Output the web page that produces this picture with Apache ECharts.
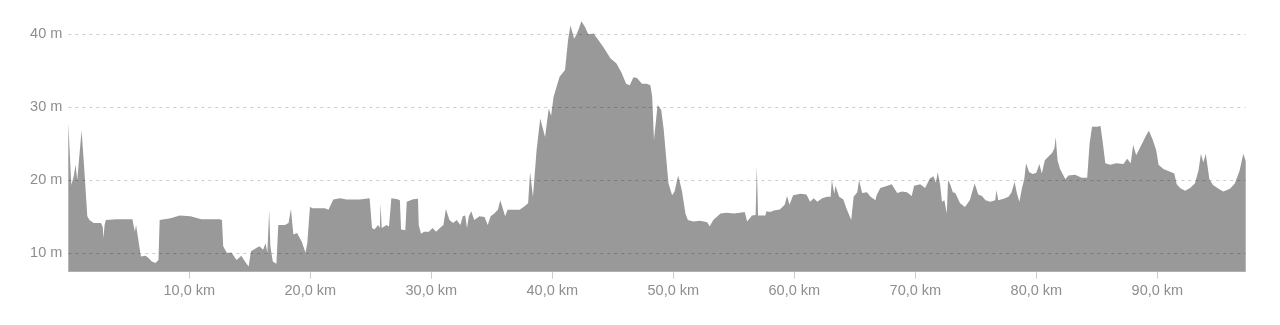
<!DOCTYPE html>
<html>
<head>
<meta charset="utf-8">
<script src="https://cdn.jsdelivr.net/npm/echarts@6/dist/echarts.min.js"></script>
<style>
html,body{margin:0;padding:0;background:#fff;}
#chart{width:1280px;height:325px;}
</style>
</head>
<body>
<div id="chart"></div>
<script>
const distanceKm = [
0.0,0.25,0.45,0.6,0.74,0.95,1.1,1.3,1.57,1.75,2.1,2.7,2.85,2.9,3.0,3.1,4.0,5.3,5.5,5.6,
6.0,6.4,6.6,6.9,7.2,7.45,7.55,8.46,9.2,10.1,11.0,12.5,12.7,12.8,13.1,13.5,13.9,14.3,14.6,14.9,
15.1,15.4,15.8,16.1,16.3,16.45,16.6,16.7,16.9,17.2,17.35,17.9,18.2,18.4,18.6,18.9,19.3,19.6,19.75,19.97,
20.2,21.2,21.5,21.9,22.45,23.0,24.1,24.9,25.1,25.3,25.6,25.75,25.8,25.9,26.3,26.5,26.7,27.2,27.4,27.5,
27.6,27.85,27.97,28.5,28.9,28.96,29.15,29.4,29.8,30.1,30.4,30.7,31.0,31.2,31.5,31.8,32.1,32.4,32.6,32.8,
32.95,33.1,33.3,33.55,33.97,34.4,34.66,34.9,35.2,35.5,35.7,35.9,36.1,36.3,37.3,37.7,38.0,38.16,38.4,38.7,
39.0,39.4,39.7,39.9,40.1,40.6,41.05,41.3,41.5,41.8,42.0,42.2,42.4,42.7,42.97,43.4,43.8,44.2,44.8,45.3,
45.7,46.1,46.4,46.7,47.0,47.4,47.8,48.1,48.25,48.4,48.7,49.0,49.2,49.4,49.6,49.9,50.1,50.4,50.7,51.0,
51.2,51.65,52.2,52.8,53.0,53.3,53.9,54.4,55.0,55.5,55.9,56.1,56.5,56.8,56.9,57.0,57.6,57.7,58.0,58.3,
58.8,59.2,59.4,59.6,59.9,60.5,61.0,61.3,61.6,61.9,62.3,62.7,63.0,63.1,63.3,63.4,63.7,64.05,64.3,64.7,
64.9,65.2,65.35,65.6,66.0,66.3,66.7,66.8,67.1,67.5,68.05,68.5,68.9,69.3,69.7,69.9,70.4,70.8,71.2,71.5,
71.7,71.85,72.05,72.2,72.4,72.6,72.7,72.9,73.1,73.3,73.7,74.1,74.5,74.9,75.2,75.5,75.8,76.2,76.6,76.7,
76.85,77.3,77.7,77.95,78.2,78.4,78.6,78.8,79.0,79.15,79.4,79.7,80.0,80.25,80.45,80.7,81.0,81.3,81.5,81.6,
81.75,81.96,82.4,82.65,83.2,83.75,84.2,84.4,84.6,85.0,85.3,85.5,85.7,86.1,86.6,87.2,87.5,87.8,88.0,88.25,
88.5,88.8,89.1,89.3,89.6,89.9,90.1,90.5,91.1,91.4,91.6,91.9,92.3,92.7,93.1,93.4,93.6,93.8,94.0,94.3,
94.6,95.05,95.45,96.0,96.4,96.8,97.1,97.3
];
const elevationM = [
27.8,19.3,20.5,22.1,20.0,24.0,26.8,22.0,15.0,14.5,14.1,14.1,13.5,12.0,13.8,14.5,14.6,14.6,12.9,13.8,
9.5,9.6,9.3,8.8,8.6,9.0,14.5,14.75,15.1,15.0,14.6,14.6,14.5,10.9,10.0,10.0,9.0,9.6,8.8,8.1,
10.2,10.5,10.9,10.4,11.3,10.0,15.8,10.9,8.8,8.5,13.8,13.8,14.1,16.0,12.5,12.7,11.5,10.0,11.3,16.3,
16.1,16.1,15.9,17.3,17.5,17.3,17.3,17.5,13.4,13.2,13.8,13.4,16.8,13.4,13.8,13.6,17.5,17.35,17.2,13.2,
13.0,13.1,17.0,17.35,17.4,13.8,12.6,12.9,12.9,13.4,12.9,13.4,13.8,16.0,14.5,14.1,14.5,13.8,15.0,15.1,
13.4,15.0,15.7,14.5,15.0,14.9,13.8,15.0,15.4,15.9,17.2,16.1,15.0,15.9,15.9,16.4,16.8,21.1,17.7,24.1,
28.45,25.9,29.8,28.8,31.4,34.15,35.1,39.2,41.2,39.4,40.0,40.8,41.8,41.0,40.0,40.1,39.2,38.3,36.7,36.0,
34.8,33.2,33.0,34.1,34.0,33.2,33.2,33.0,31.5,25.5,30.3,29.6,27.0,23.2,19.5,17.9,18.4,20.6,18.6,15.4,
14.5,14.3,14.4,14.2,13.6,14.5,15.4,15.5,15.4,15.5,15.6,14.3,15.1,15.2,21.9,15.1,15.1,15.7,15.6,15.8,
15.95,16.6,17.8,16.6,17.9,18.1,18.0,17.0,17.5,17.0,17.5,17.7,17.7,20.0,18.1,19.2,17.7,17.3,16.1,14.5,
17.7,18.3,20.0,18.2,18.3,17.7,17.2,17.9,18.9,19.1,19.4,18.2,18.4,18.3,17.8,19.2,19.4,18.9,20.2,20.5,
19.6,21.1,19.3,17.0,17.2,15.4,20.0,19.3,18.3,18.2,16.8,16.3,17.2,19.5,18.0,17.8,17.2,17.0,17.2,18.6,
17.2,17.4,17.7,18.3,19.7,18.1,17.0,18.8,20.1,22.3,21.1,20.8,21.0,22.2,20.9,22.7,23.2,23.7,24.4,25.9,
22.7,21.5,20.1,20.6,20.7,20.3,20.3,25.0,27.3,27.3,27.4,25.0,22.3,22.1,22.3,22.2,22.9,22.3,24.8,23.4,
24.2,25.2,26.2,26.75,25.6,24.1,22.1,21.5,21.1,20.9,19.4,18.85,18.5,18.9,19.5,21.3,23.6,22.4,23.6,20.1,
19.3,18.8,18.4,18.8,19.5,21.3,23.6,22.6
];
const yTickValues = [10, 20, 30, 40];

const chart = echarts.init(document.getElementById('chart'), null, {renderer: 'canvas'});
const seriesData = distanceKm.map((d, i) => [d, elevationM[i]]);
const fontFamily = '"Liberation Sans", Arial, Helvetica, sans-serif';

chart.setOption({
  animation: false,
  backgroundColor: '#ffffff',
  grid: {left: 68.3, right: 34.3, top: 19.7, bottom: 53.3, containLabel: false},
  xAxis: {
    type: 'value',
    min: 0,
    max: 97.3,
    interval: 10,
    axisLine: {show: true, lineStyle: {color: '#cccccc', width: 1}},
    axisTick: {show: true, length: 7, lineStyle: {color: '#cccccc', width: 1}},
    splitLine: {show: false},
    axisLabel: {
      show: true,
      color: '#8e8e8e',
      fontSize: 14.5,
      fontFamily: fontFamily,
      margin: 12,
      showMinLabel: false,
      showMaxLabel: false,
      formatter: function (v) { return v.toFixed(1).replace('.', ',') + ' km'; }
    }
  },
  yAxis: {
    type: 'value',
    min: 7.4,
    max: 42,
    z: 3,
    axisLine: {show: false},
    axisTick: {show: false, customValues: yTickValues},
    splitLine: {show: true, lineStyle: {color: 'rgba(0,0,0,0.2)', width: 1, type: [3, 4]}},
    axisLabel: {
      show: true,
      customValues: yTickValues,
      color: '#8e8e8e',
      fontSize: 14.5,
      fontFamily: fontFamily,
      margin: 6,
      formatter: function (v) { return v + ' m'; }
    }
  },
  series: [{
    type: 'line',
    data: seriesData,
    showSymbol: false,
    symbol: 'none',
    smooth: false,
    lineStyle: {width: 0, color: '#999999'},
    areaStyle: {color: '#999999', opacity: 1, origin: 'start'},
    z: 2
  }]
});
</script>
</body>
</html>
